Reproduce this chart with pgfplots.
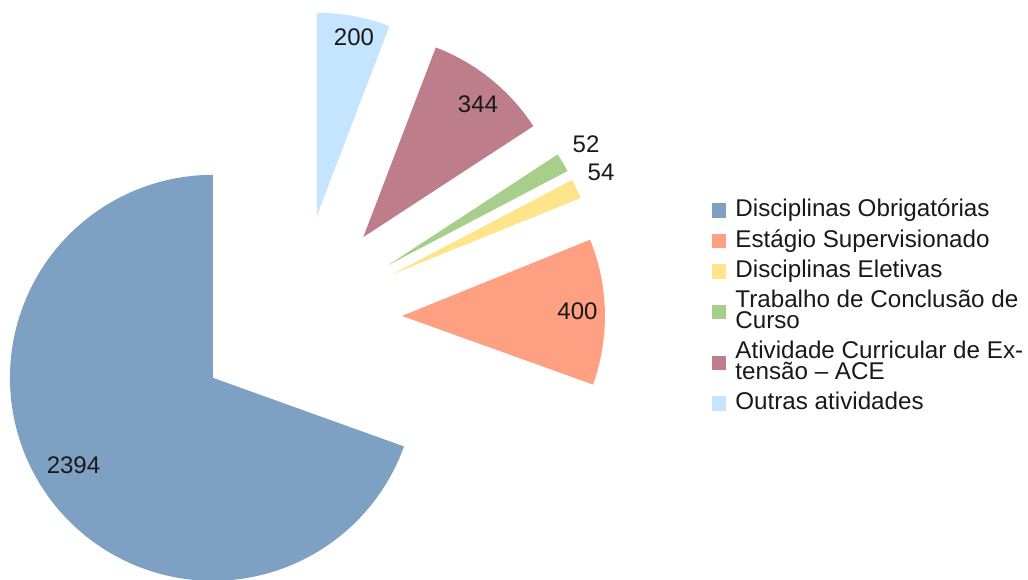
\documentclass[border=0pt]{standalone}
\usepackage{fontspec}
\setmainfont{Liberation Sans}
\usepackage{pgfplots}
\pgfplotsset{compat=1.18}
\definecolor{cA}{RGB}{126,160,195}
\definecolor{cB}{RGB}{255,160,130}
\definecolor{cC}{RGB}{255,228,140}
\definecolor{cD}{RGB}{168,206,140}
\definecolor{cE}{RGB}{190,125,138}
\definecolor{cF}{RGB}{196,228,255}
\definecolor{txt}{RGB}{25,25,25}
% slice values
\def\vA{2394}\def\vB{400}\def\vC{54}\def\vD{52}\def\vE{344}\def\vF{200}
% geometry (pixel units): pie centre, explode distance, radius
\def\cx{298}\def\cy{318}\def\dd{104}\def\rr{203}
\pgfmathsetmacro\tot{\vA+\vB+\vC+\vD+\vE+\vF}
\pgfmathsetmacro\sA{90}
\pgfmathsetmacro\eA{\sA+360*(\vA/\tot)}
\pgfmathsetmacro\eB{\eA+360*(\vB/\tot)}
\pgfmathsetmacro\eC{\eB+360*(\vC/\tot)}
\pgfmathsetmacro\eD{\eC+360*(\vD/\tot)}
\pgfmathsetmacro\eE{\eD+360*(\vE/\tot)}
\pgfmathsetmacro\eF{\eE+360*(\vF/\tot)}
\pgfmathsetmacro\xA{\cx+\dd*cos((\sA+\eA)/2)}\pgfmathsetmacro\yA{\cy-\dd*sin((\sA+\eA)/2)}
\pgfmathsetmacro\xB{\cx+\dd*cos((\eA+\eB)/2)}\pgfmathsetmacro\yB{\cy-\dd*sin((\eA+\eB)/2)}
\pgfmathsetmacro\xC{\cx+\dd*cos((\eB+\eC)/2)}\pgfmathsetmacro\yC{\cy-\dd*sin((\eB+\eC)/2)}
\pgfmathsetmacro\xD{\cx+\dd*cos((\eC+\eD)/2)}\pgfmathsetmacro\yD{\cy-\dd*sin((\eC+\eD)/2)}
\pgfmathsetmacro\xE{\cx+\dd*cos((\eD+\eE)/2)}\pgfmathsetmacro\yE{\cy-\dd*sin((\eD+\eE)/2)}
\pgfmathsetmacro\xF{\cx+\dd*cos((\eE+\eF)/2)}\pgfmathsetmacro\yF{\cy-\dd*sin((\eE+\eF)/2)}
\newcommand\lh{\rule{0pt}{8.7pt}}
\newcommand\ld{\rule[-3pt]{0pt}{0pt}}
\newcommand\lbl{\fontsize{12}{13}\selectfont}
\begin{document}
\begin{tikzpicture}
\begin{axis}[
  x=0.5pt, y=0.5pt,
  xmin=0, xmax=1028, ymin=0, ymax=579,
  y dir=reverse,
  hide axis,
  clip=false,
  legend style={at={(axis cs:712,199)}, anchor=north west, draw=none, fill=none,
    inner sep=0pt, outer sep=0pt, row sep=4.8pt, column sep=4.5pt,
    font=\fontsize{12.1}{10.4}\selectfont, text=txt,
    cells={anchor=west, align=left}, nodes={inner sep=0pt}},
  legend image code/.code={\fill[#1] (0pt,-4.2pt) rectangle (7.2pt,3pt);},
]
\addplot[fill=cA, draw=none, domain=\sA:\eA, samples=160, variable=\t]
  ({\xA+\rr*cos(\t)}, {\yA-\rr*sin(\t)}) -- (axis cs:\xA,\yA) -- cycle;
\addlegendentry{\lh Disciplinas Obrigatórias\ld}
\addplot[fill=cB, draw=none, domain=\eA:\eB, samples=40, variable=\t]
  ({\xB+\rr*cos(\t)}, {\yB-\rr*sin(\t)}) -- (axis cs:\xB,\yB) -- cycle;
\addlegendentry{\lh Estágio Supervisionado\ld}
\addplot[fill=cC, draw=none, domain=\eB:\eC, samples=10, variable=\t]
  ({\xC+\rr*cos(\t)}, {\yC-\rr*sin(\t)}) -- (axis cs:\xC,\yC) -- cycle;
\addlegendentry{\lh Disciplinas Eletivas\ld}
\addplot[fill=cD, draw=none, domain=\eC:\eD, samples=10, variable=\t]
  ({\xD+\rr*cos(\t)}, {\yD-\rr*sin(\t)}) -- (axis cs:\xD,\yD) -- cycle;
\addlegendentry{\lh Trabalho de Conclusão de\\Curso\ld}
\addplot[fill=cE, draw=none, domain=\eD:\eE, samples=40, variable=\t]
  ({\xE+\rr*cos(\t)}, {\yE-\rr*sin(\t)}) -- (axis cs:\xE,\yE) -- cycle;
\addlegendentry{\lh Atividade Curricular de Ex-\\tensão – ACE\ld}
\addplot[fill=cF, draw=none, domain=\eE:\eF, samples=30, variable=\t]
  ({\xF+\rr*cos(\t)}, {\yF-\rr*sin(\t)}) -- (axis cs:\xF,\yF) -- cycle;
\addlegendentry{\lh Outras atividades\ld}
\node[font=\lbl, text=txt] at (axis cs:73.5,465) {2394};
\node[font=\lbl, text=txt] at (axis cs:577.5,311) {400};
\node[font=\lbl, text=txt] at (axis cs:601,172.5) {54};
\node[font=\lbl, text=txt] at (axis cs:586,144) {52};
\node[font=\lbl, text=txt] at (axis cs:478,104.7) {344};
\node[font=\lbl, text=txt] at (axis cs:354,37) {200};
\coordinate (LL) at (axis cs:0,579);
\coordinate (UR) at (axis cs:1028,0);
\end{axis}
\pgfresetboundingbox
\useasboundingbox (LL) rectangle (UR);
\end{tikzpicture}
\end{document}
